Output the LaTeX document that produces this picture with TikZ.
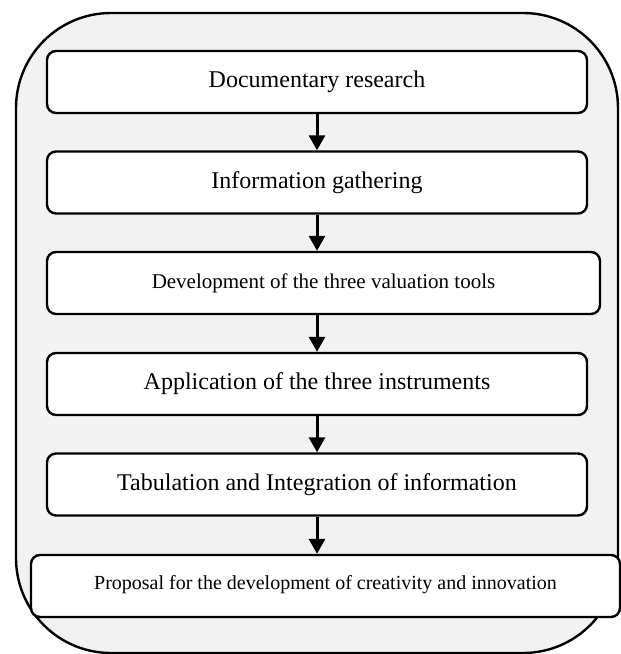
\documentclass[tikz,border=0pt]{standalone}
\usepackage{fontspec}
\setmainfont{Liberation Serif}
\usetikzlibrary{arrows.meta}
\definecolor{framegray}{HTML}{F2F2F2}
\begin{document}
\begin{tikzpicture}[x=1pt,y=1pt,
  box/.style={draw, line width=2.4pt, fill=white, rounded corners=9pt, align=center, minimum height=62pt, inner sep=0pt, font=\fontsize{24}{28}\selectfont},
  link/.style={-{Triangle[width=16pt,length=15pt]}, line width=3pt}]
\useasboundingbox (0,0) rectangle (621,-654);
\node[draw, line width=2.4pt, fill=framegray, rounded corners=95pt, minimum width=602pt, minimum height=640pt] (frame) at (317,-333) {};
\node[box, minimum width=540pt] (a) at (317,-82) {Documentary research};
\node[box, minimum width=540pt] (b) at (317,-182.5) {Information gathering};
\node[box, minimum width=553pt, font=\fontsize{21}{25}\selectfont] (c) at (323.5,-283) {Development of the three valuation tools};
\node[box, minimum width=540pt] (d) at (317,-384) {Application of the three instruments};
\node[box, minimum width=540pt] (e) at (317,-484.5) {Tabulation and Integration of information};
\node[box, minimum width=589pt, font=\fontsize{20}{24}\selectfont, text depth=8pt] (f) at (325.5,-586) {Proposal for the development of creativity and innovation};
\draw[link] (a) -- (b);
\draw[link] (b.south) -- (b.south |- c.north);
\draw[link] (c.south -| d.north) -- (d);
\draw[link] (d) -- (e);
\draw[link] (e.south) -- (e.south |- f.north);
\end{tikzpicture}
\end{document}
